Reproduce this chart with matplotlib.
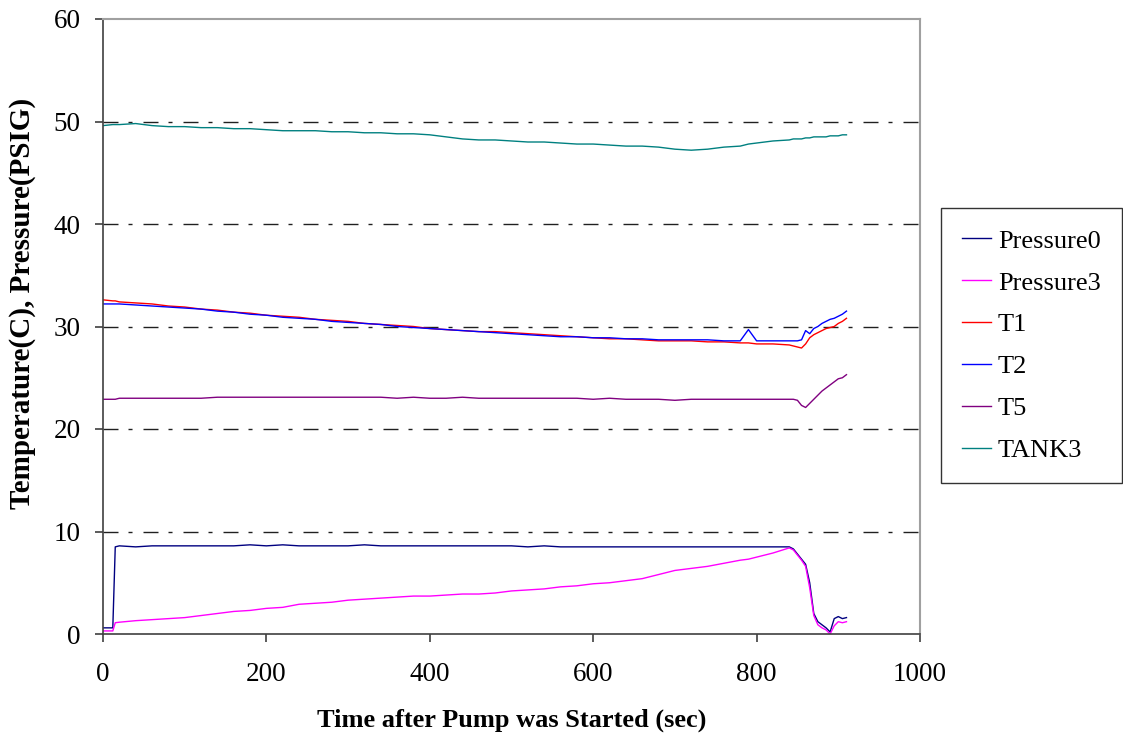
import matplotlib.pyplot as plt

plt.rcParams['font.family'] = ['Liberation Serif', 'DejaVu Serif']

# sample times (sec)
t = [0, 12, 15, 20, 40, 60, 80, 100, 120, 140, 160, 180, 200, 220, 240, 260,
     280, 300, 320, 340, 360, 380, 400, 420, 440, 460, 480, 500, 520, 540,
     560, 580, 600, 620, 640, 660, 680, 700, 720, 740, 760, 780, 790, 800,
     820, 840, 845, 850, 855, 860, 865, 870, 875, 880, 885, 890, 895, 900,
     905, 910]

pressure0 = [0.6, 0.6, 8.5, 8.6, 8.5, 8.6, 8.6, 8.6, 8.6, 8.6, 8.6, 8.7, 8.6,
             8.7, 8.6, 8.6, 8.6, 8.6, 8.7, 8.6, 8.6, 8.6, 8.6, 8.6, 8.6, 8.6,
             8.6, 8.6, 8.5, 8.6, 8.5, 8.5, 8.5, 8.5, 8.5, 8.5, 8.5, 8.5, 8.5,
             8.5, 8.5, 8.5, 8.5, 8.5, 8.5, 8.5, 8.3, 7.8, 7.3, 6.8, 5.0, 2.0,
             1.2, 0.9, 0.6, 0.2, 1.5, 1.7, 1.5, 1.6]

pressure3 = [0.3, 0.3, 1.1, 1.15, 1.3, 1.4, 1.5, 1.6, 1.8, 2.0, 2.2, 2.3, 2.5,
             2.6, 2.9, 3.0, 3.1, 3.3, 3.4, 3.5, 3.6, 3.7, 3.7, 3.8, 3.9, 3.9,
             4.0, 4.2, 4.3, 4.4, 4.6, 4.7, 4.9, 5.0, 5.2, 5.4, 5.8, 6.2, 6.4,
             6.6, 6.9, 7.2, 7.3, 7.5, 7.9, 8.4, 8.2, 7.7, 7.2, 6.6, 4.5, 1.8,
             0.9, 0.6, 0.4, 0.0, 0.8, 1.2, 1.1, 1.2]

t1 = [32.6, 32.5, 32.5, 32.4, 32.3, 32.2, 32.0, 31.9, 31.7, 31.6, 31.4, 31.3,
      31.1, 31.0, 30.9, 30.7, 30.6, 30.5, 30.3, 30.2, 30.1, 30.0, 29.8, 29.7,
      29.6, 29.5, 29.5, 29.4, 29.3, 29.2, 29.1, 29.0, 28.9, 28.8, 28.8, 28.7,
      28.6, 28.6, 28.6, 28.5, 28.5, 28.4, 28.4, 28.3, 28.3, 28.2, 28.1, 28.0,
      27.9, 28.3, 28.9, 29.2, 29.4, 29.6, 29.8, 29.9, 30.0, 30.3, 30.5, 30.8]

t2 = [32.2, 32.2, 32.2, 32.2, 32.1, 32.0, 31.9, 31.8, 31.7, 31.5, 31.4, 31.2,
      31.1, 30.9, 30.8, 30.7, 30.5, 30.4, 30.3, 30.2, 30.0, 29.9, 29.8, 29.7,
      29.6, 29.5, 29.4, 29.3, 29.2, 29.1, 29.0, 29.0, 28.9, 28.9, 28.8, 28.8,
      28.7, 28.7, 28.7, 28.7, 28.6, 28.6, 29.7, 28.6, 28.6, 28.6, 28.6, 28.6,
      28.7, 29.6, 29.3, 29.8, 30.0, 30.3, 30.5, 30.7, 30.8, 31.0, 31.2, 31.5]

t5 = [22.9, 22.9, 22.9, 23.0, 23.0, 23.0, 23.0, 23.0, 23.0, 23.1, 23.1, 23.1,
      23.1, 23.1, 23.1, 23.1, 23.1, 23.1, 23.1, 23.1, 23.0, 23.1, 23.0, 23.0,
      23.1, 23.0, 23.0, 23.0, 23.0, 23.0, 23.0, 23.0, 22.9, 23.0, 22.9, 22.9,
      22.9, 22.8, 22.9, 22.9, 22.9, 22.9, 22.9, 22.9, 22.9, 22.9, 22.9, 22.8,
      22.3, 22.1, 22.5, 22.9, 23.3, 23.7, 24.0, 24.3, 24.6, 24.9, 25.0, 25.3]

tank3 = [49.6, 49.7, 49.7, 49.7, 49.8, 49.6, 49.5, 49.5, 49.4, 49.4, 49.3,
         49.3, 49.2, 49.1, 49.1, 49.1, 49.0, 49.0, 48.9, 48.9, 48.8, 48.8,
         48.7, 48.5, 48.3, 48.2, 48.2, 48.1, 48.0, 48.0, 47.9, 47.8, 47.8,
         47.7, 47.6, 47.6, 47.5, 47.3, 47.2, 47.3, 47.5, 47.6, 47.8, 47.9,
         48.1, 48.2, 48.3, 48.3, 48.3, 48.4, 48.4, 48.5, 48.5, 48.5, 48.5,
         48.6, 48.6, 48.6, 48.7, 48.7]

series = [
    ("Pressure0", pressure0, '#000080'),
    ("Pressure3", pressure3, '#FF00FF'),
    ("T1", t1, '#FF0000'),
    ("T2", t2, '#0000FF'),
    ("T5", t5, '#800080'),
    ("TANK3", tank3, '#008080'),
]

fig = plt.figure(figsize=(11.23, 7.37), dpi=100)
ax = fig.add_axes([103 / 1123, 103 / 737, 817 / 1123, 615 / 737])

for name, vals, col in series:
    ax.plot(t, vals, color=col, lw=1.0, label=name)

ax.set_xlim(0, 1000)
ax.set_ylim(0, 60)
ax.set_xticks([0, 200, 400, 600, 800, 1000])
ax.set_yticks([0, 10, 20, 30, 40, 50, 60])

# dash-dot horizontal gridlines
for y in [10, 20, 30, 40, 50]:
    ax.axhline(y, color='#202020', lw=1.0, ls=(0, (10.8, 7.2, 2.9, 7.9)),
               zorder=0)

for side in ['top', 'right']:
    ax.spines[side].set_color('#a0a0a0')
    ax.spines[side].set_linewidth(1.5)
for side in ['left', 'bottom']:
    ax.spines[side].set_color('#404040')
    ax.spines[side].set_linewidth(1.2)

ax.tick_params(axis='both', direction='out', length=6, width=1.2,
               color='#404040', labelsize=19.5)
ax.tick_params(axis='x', pad=14)
ax.tick_params(axis='y', pad=10)

ax.set_xlabel("Time after Pump was Started (sec)", fontsize=19,
              fontweight='bold', labelpad=16)
ax.set_ylabel("Temperature(C), Pressure(PSIG)", fontsize=21,
              fontweight='bold')
ax.yaxis.set_label_coords(36 / 1123, 1 - 303 / 737, transform=fig.transFigure)

leg = ax.legend(loc='upper left', bbox_to_anchor=(941 / 1123, 1 - 208 / 737),
                bbox_transform=fig.transFigure, fontsize=19, frameon=True,
                fancybox=False, edgecolor='black', handlelength=1.1,
                labelspacing=0.7, borderpad=0.8, handletextpad=0.25,
                borderaxespad=0)
leg.get_frame().set_linewidth(1.0)

fig.savefig("out.png", dpi=100)
